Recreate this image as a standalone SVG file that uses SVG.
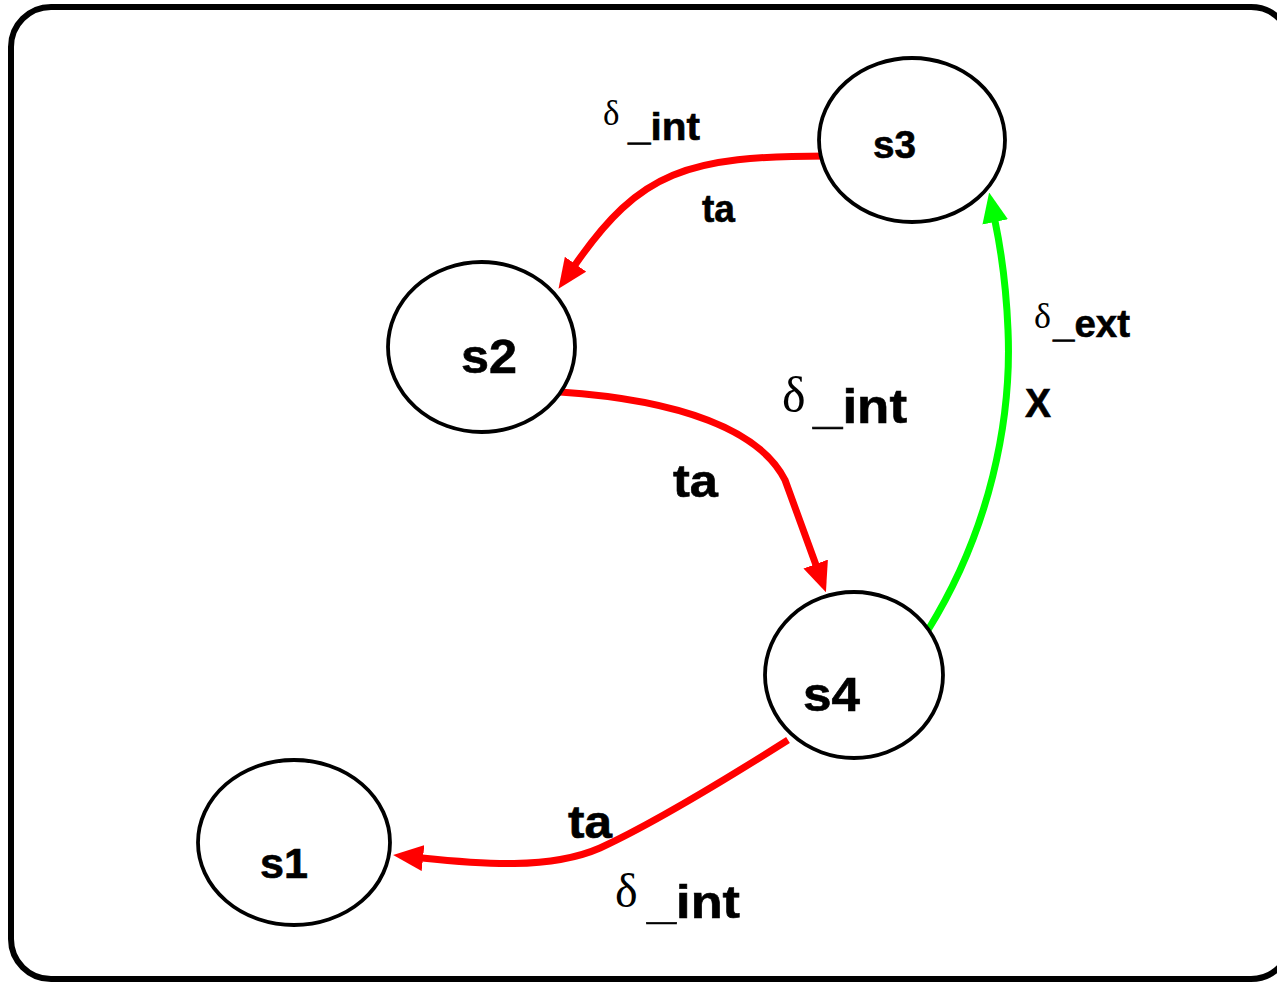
<svg xmlns="http://www.w3.org/2000/svg" width="1277" height="984" viewBox="0 0 1277 984">
  <style>
    .frame { fill: #ffffff; stroke: #000000; stroke-width: 6; }
    .state { fill: #ffffff; stroke: #000000; stroke-width: 3.8; }
    .name { font-family: "Liberation Sans", Arial, sans-serif; font-weight: bold; fill: #000000; stroke: #000000; stroke-width: 0.6; }
    .lbl { font-family: "Liberation Sans", Arial, sans-serif; font-weight: bold; fill: #000000; stroke: #000000; stroke-width: 0.6; }
    .greek { font-family: "Liberation Serif", "Times New Roman", serif; font-weight: normal; stroke-width: 0; }
    .red { fill: none; stroke: #ff0000; stroke-width: 7; }
    .green { fill: none; stroke: #00ff00; stroke-width: 7; }
  </style>
  <defs>
    <marker id="arrRed" markerUnits="userSpaceOnUse" markerWidth="30" markerHeight="26" viewBox="0 0 30 26" refX="1" refY="13" orient="auto">
      <path d="M0,0 L30,13 L0,26 z" fill="#ff0000"/>
    </marker>
    <marker id="arrGreen" markerUnits="userSpaceOnUse" markerWidth="30" markerHeight="26" viewBox="0 0 30 26" refX="1" refY="13" orient="auto">
      <path d="M0,0 L30,13 L0,26 z" fill="#00ff00"/>
    </marker>
  </defs>

  <rect class="frame" x="11" y="7" width="1280" height="972" rx="40" ry="40"/>

  <g id="connectors">
    <path id="e-s3-s2" class="red" d="M827,156 C687,156 640,171 575,265" marker-end="url(#arrRed)"/>
    <path id="e-s2-s4" class="red" d="M560,392 C680,400 760,430 785,480 L816,565" marker-end="url(#arrRed)"/>
    <path id="e-s4-s3" class="green" d="M928,630 C990,530 1012,420 1008,330 C1006,280 1001,250 995,221" marker-end="url(#arrGreen)"/>
    <path id="e-s4-s1" class="red" d="M788,740 C720,783 650,825 600,848 C550,870 480,864 422,858" marker-end="url(#arrRed)"/>
  </g>

  <g id="s3">
    <ellipse class="state" cx="912" cy="140" rx="93" ry="82"/>
    <text class="name" x="873" y="158" font-size="38" textLength="43" lengthAdjust="spacingAndGlyphs">s3</text>
  </g>
  <g id="s2">
    <ellipse class="state" cx="481.5" cy="347" rx="93.5" ry="85"/>
    <text class="name" x="461" y="373" font-size="48" textLength="56" lengthAdjust="spacingAndGlyphs">s2</text>
  </g>
  <g id="s4">
    <ellipse class="state" cx="854" cy="675" rx="89" ry="83"/>
    <text class="name" x="803" y="711" font-size="49" textLength="57" lengthAdjust="spacingAndGlyphs">s4</text>
  </g>
  <g id="s1">
    <ellipse class="state" cx="294" cy="842.5" rx="96" ry="82.5"/>
    <text class="name" x="260" y="878" font-size="42" textLength="48" lengthAdjust="spacingAndGlyphs">s1</text>
  </g>

  <g id="labels">
    <text class="lbl"><tspan class="greek" x="603" y="125" font-size="35">δ</tspan><tspan x="628" y="140" font-size="39" textLength="72" lengthAdjust="spacingAndGlyphs">_int</tspan></text>
    <text class="lbl" x="702" y="222" font-size="38" textLength="33" lengthAdjust="spacingAndGlyphs">ta</text>

    <text class="lbl"><tspan class="greek" x="782" y="412" font-size="50">δ</tspan><tspan x="813" y="423" font-size="48" textLength="94" lengthAdjust="spacingAndGlyphs">_int</tspan></text>
    <text class="lbl" x="673" y="497" font-size="47" textLength="45" lengthAdjust="spacingAndGlyphs">ta</text>

    <text class="lbl"><tspan class="greek" x="1034" y="328" font-size="36">δ</tspan><tspan x="1053" y="337" font-size="39" textLength="77" lengthAdjust="spacingAndGlyphs">_ext</tspan></text>
    <text class="lbl" x="1025" y="417" font-size="40" textLength="26" lengthAdjust="spacingAndGlyphs">X</text>

    <text class="lbl" x="568" y="838" font-size="46" textLength="44" lengthAdjust="spacingAndGlyphs">ta</text>
    <text class="lbl"><tspan class="greek" x="615" y="907" font-size="48">δ</tspan><tspan x="647" y="918" font-size="46" textLength="93" lengthAdjust="spacingAndGlyphs">_int</tspan></text>
  </g>
</svg>
